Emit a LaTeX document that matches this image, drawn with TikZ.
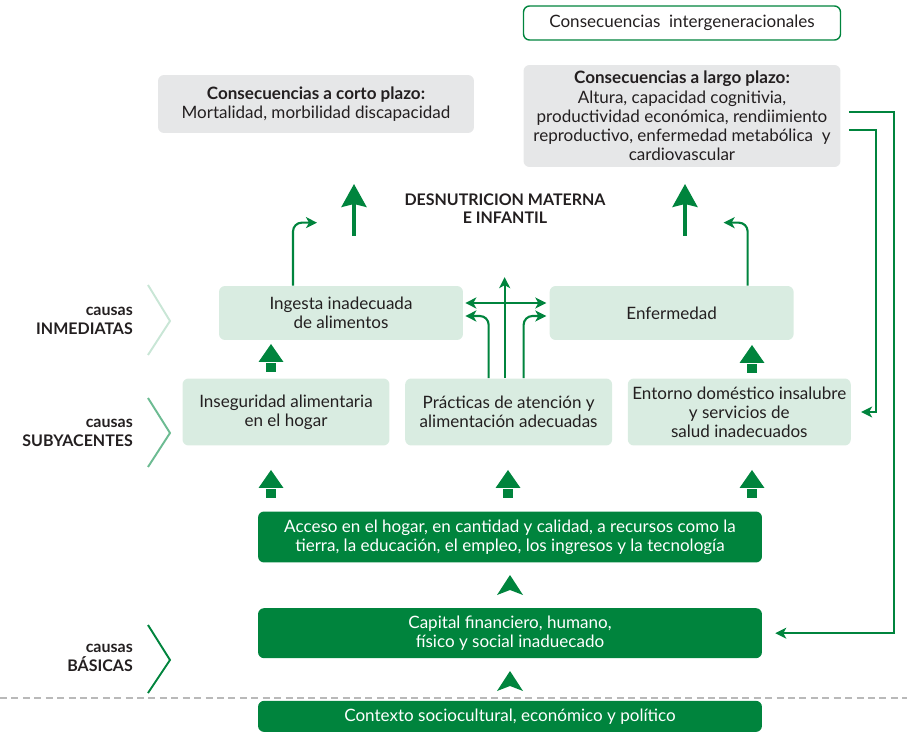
\documentclass[tikz,border=0pt]{standalone}
\usepackage{fontspec}
\setmainfont{Lato}
\usetikzlibrary{arrows.meta,positioning}
\definecolor{dkgreen}{HTML}{00843D}
\definecolor{paleg}{HTML}{D9ECE1}
\definecolor{palegray}{HTML}{E6E7E8}
\definecolor{midg}{HTML}{6CBB92}
\definecolor{lightg}{HTML}{C9E6D6}
\definecolor{txt}{HTML}{231F20}
\newcommand{\dfont}{\fontsize{9.7}{10.9}\selectfont}
\newcommand{\sfont}{\fontsize{9.1}{10.4}\selectfont}
\tikzset{
  conbox/.style={
    rounded corners=0.12cm,
    align=center,
    minimum width=6.34cm,
    inner sep=2pt
  },
  causebox/.style={
    fill=paleg,
    rounded corners=0.12cm,
    align=center,
    minimum height=1.34cm,
    minimum width=4.14cm,
    inner sep=2pt
  },
  basebox/.style={
    fill=dkgreen,
    text=white,
    rounded corners=0.12cm,
    align=center,
    minimum width=10.08cm,
    inner sep=2pt
  },
  sidelabel/.style={anchor=east, align=right, font=\sfont\bfseries},
  chev/.style={line width=1.1pt},
  flowarrow/.style={-{Stealth[length=2.2mm,width=2.2mm,inset=0.6mm]}, line width=1.2pt, draw=dkgreen},
  bigarrow/.style={-{Stealth[length=4.6mm,width=5mm,inset=0.6mm]}, line width=1.9pt, draw=dkgreen},
  blockup/.pic={
    \fill[dkgreen] (0,-14) -- (12.5,4) -- (-12.5,4) -- cycle;
    \fill[dkgreen] (-5,5) rectangle (5,14);
  },
  notchup/.pic={
    \fill[dkgreen] (0,-10) -- (13,10) -- (0,5) -- (-13,10) -- cycle;
  }
}

\begin{document}
\begin{tikzpicture}[x=0.02cm, y=-0.02cm, font=\dfont, text=txt]
  \useasboundingbox (0,0) rectangle (907,733);

  % consequences
  \node[conbox, draw=dkgreen, fill=white, line width=0.8pt, minimum height=0.68cm] (intergen) at (682,23) {Consecuencias\ \ intergeneracionales};
  \node[conbox, fill=palegray, minimum width=6.32cm, minimum height=1.16cm] (corto) at (316,104) {\textbf{Consecuencias a corto plazo:}\\Mortalidad, morbilidad discapacidad};
  \node[conbox, fill=palegray, minimum height=2.04cm] (largo) at (682,116) {\textbf{Consecuencias a largo plazo:}\\Altura, capacidad cognitivia,\\productividad económica, rendiimiento\\reproductivo, enfermedad metabólica\ \ y\\cardiovascular};
  \node[align=center, font=\sfont\bfseries] (desnut) at (505,209) {DESNUTRICION MATERNA\\E INFANTIL};

  % immediate and underlying causes
  \node[causebox, minimum width=4.88cm, minimum height=1.08cm] (ingesta) at (341,313) {Ingesta inadecuada\\de alimentos};
  \node[causebox, minimum width=4.88cm, minimum height=1.08cm, right=1.72cm of ingesta] (enfermedad) {Enfermedad};
  \node[causebox] (inseguridad) at (286,412) {Inseguridad alimentaria\\en el hogar};
  \node[causebox, right=0.3cm of inseguridad] (practicas) {Prácticas de atención y\\alimentación adecuadas};
  \node[causebox, minimum width=4.46cm, right=0.3cm of practicas] (entorno) {Entorno doméstico insalubre\\y servicios de\\salud inadecuados};

  % basic causes
  \node[basebox, minimum height=1.02cm] (acceso) at (510,537) {Acceso en el hogar, en cantidad y calidad, a recursos como la\\tierra, la educación, el empleo, los ingresos y la tecnología};
  \node[basebox, minimum height=1.0cm, below=0.9cm of acceso] (capital) {Capital financiero, humano,\\físico y social inaduecado};
  \node[basebox, minimum height=0.62cm, below=0.84cm of capital] (contexto) {Contexto sociocultural, económico y político};

  % side labels
  \node[sidelabel] (inmed) at (139,321) {causas\\INMEDIATAS};
  \node[sidelabel] (subya) at (139,433) {causas\\SUBYACENTES};
  \node[sidelabel] (basic) at (139,658) {causas\\BÁSICAS};
  \draw[chev, lightg] (148,285) -- (170,321) -- (148,355);
  \draw[chev, midg] (148,398) -- (170,433) -- (148,467);
  \draw[chev, dkgreen] (148,625) -- (170,660) -- (148,693);

  \draw[gray!55, line width=0.6pt, dash pattern=on 4pt off 2.5pt] (0,698) -- (907,698);

  % arrows to consequences
  \coordinate (upA) at (354,236);
  \coordinate (upB) at (685,236);
  \draw[bigarrow] (upA) -- ++(0,-52);
  \draw[bigarrow] (upB) -- ++(0,-52);
  \draw[flowarrow, rounded corners=5pt] ([shift={(-48,0)}]ingesta.north) |- ++(24,-63);
  \draw[flowarrow, rounded corners=5pt] ([shift={(76,0)}]enfermedad.north) |- ++(-24,-63);

  % care practices
  \draw[flowarrow] ([shift={(-4,0)}]practicas.north) -- ++(0,-101);
  \draw[flowarrow, {Stealth[length=2.2mm,width=2.2mm,inset=0.6mm]}-{Stealth[length=2.2mm,width=2.2mm,inset=0.6mm]}] ([shift={(2,-10)}]ingesta.east) -- ([shift={(-3,-10)}]enfermedad.west);
  \draw[flowarrow, rounded corners=5pt] ([shift={(-20,0)}]practicas.north) |- ([shift={(2,3)}]ingesta.east);
  \draw[flowarrow, rounded corners=5pt] ([shift={(15,0)}]practicas.north) |- ([shift={(-3,3)}]enfermedad.west);

  % feedback
  \draw[flowarrow] ([shift={(8,-4)}]largo.east) -- ++(45,0) |- ([shift={(13,0)}]capital.east);
  \draw[flowarrow] ([shift={(8,14)}]largo.east) -- ++(27,0) |- ([shift={(10,0)}]entorno.east);

  % block arrows
  \pic at (271,358) {blockup};
  \pic at (752,359) {blockup};
  \pic at (271,484) {blockup};
  \pic at (508,484) {blockup};
  \pic at (752,484) {blockup};
  \pic at (510,585) {notchup};
  \pic at (510,681) {notchup};
\end{tikzpicture}
\end{document}
